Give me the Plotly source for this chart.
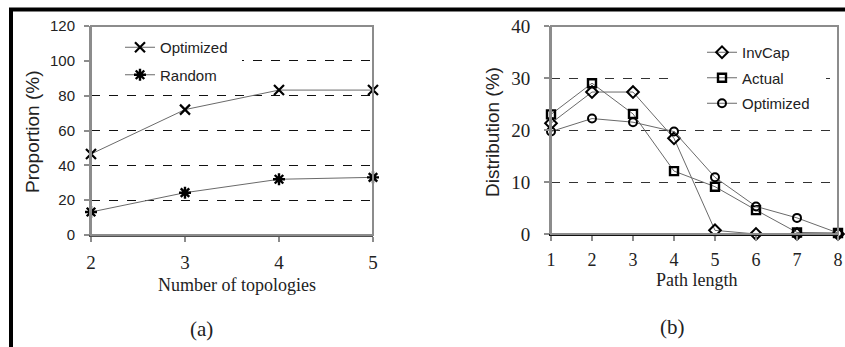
import plotly.graph_objects as go

W, H = 845, 347

# ---- data: panel (a)
topologies = [2, 3, 4, 5]
prop_optimized = [46.5, 72, 83.2, 83.2]
prop_random = [13.2, 24.3, 32, 33.1]
prop_ticks = [0, 20, 40, 60, 80, 100, 120]

# ---- data: panel (b)
path_length = [1, 2, 3, 4, 5, 6, 7, 8]
dist_invcap = [21.3, 27.3, 27.3, 18.4, 0.7, 0, 0, 0]
dist_actual = [23.0, 29.0, 23.1, 12.1, 9.1, 4.6, 0.3, 0.2]
dist_optimized = [19.7, 22.2, 21.5, 19.7, 10.9, 5.3, 3.1, 0.2]
dist_ticks = [0, 10, 20, 30, 40]

SANS = "Liberation Sans, Arial, sans-serif"
SERIF = "Liberation Serif, Times New Roman, serif"
LINE = "#6a6a6a"
FRAME = "#8c8c8c"


def px_x(p):
    return p / W


def px_y(p):
    return (H - p) / H


fig = go.Figure()

# panel (a) traces
fig.add_trace(go.Scatter(
    x=topologies, y=prop_optimized, name="Optimized", mode="lines+markers",
    line=dict(color=LINE, width=1),
    marker=dict(symbol="x-thin-open", size=10, color="black", line=dict(color="black", width=2.2)),
    xaxis="x", yaxis="y", legend="legend", legendgroup="a1", cliponaxis=False))
fig.add_trace(go.Scatter(
    x=topologies, y=prop_random, name="Random", mode="lines+markers",
    line=dict(color=LINE, width=1),
    marker=dict(symbol="asterisk-open", size=10, color="black", line=dict(color="black", width=2.4)),
    xaxis="x", yaxis="y", legend="legend", legendgroup="a2", cliponaxis=False))

# panel (b) traces
fig.add_trace(go.Scatter(
    x=path_length, y=dist_invcap, name="InvCap", mode="lines+markers",
    line=dict(color=LINE, width=1),
    marker=dict(symbol="diamond-open", size=9, color="black", line=dict(color="black", width=2)),
    xaxis="x2", yaxis="y2", legend="legend2", legendgroup="b1", cliponaxis=False))
fig.add_trace(go.Scatter(
    x=path_length, y=dist_actual, name="Actual", mode="lines+markers",
    line=dict(color=LINE, width=1),
    marker=dict(symbol="square-open", size=8, color="black", line=dict(color="black", width=2.4)),
    xaxis="x2", yaxis="y2", legend="legend2", legendgroup="b2", cliponaxis=False))
fig.add_trace(go.Scatter(
    x=path_length, y=dist_optimized, name="Optimized", mode="lines+markers",
    line=dict(color=LINE, width=1),
    marker=dict(symbol="circle-open", size=8, color="black", line=dict(color="black", width=2)),
    xaxis="x2", yaxis="y2", legend="legend2", legendgroup="b3", cliponaxis=False))

axis_common = dict(showline=True, ticks="outside", ticklen=5, tickcolor=FRAME, tickwidth=1.5,
                   zeroline=False, fixedrange=True, automargin=False)

fig.update_layout(
    width=W, height=H, margin=dict(l=0, r=0, t=0, b=0, autoexpand=False),
    paper_bgcolor="white", plot_bgcolor="white",
    xaxis=dict(domain=[px_x(91), px_x(373)], range=[2, 5], tickvals=topologies,
               showgrid=False, linecolor="#505050", linewidth=2,
               tickfont=dict(family=SERIF, size=19, color="#222"), ticklabelstandoff=4,
               anchor="y", **axis_common),
    yaxis=dict(domain=[px_y(235), px_y(26)], range=[0, 120], tickvals=prop_ticks,
               showgrid=True, gridcolor="#111", griddash="dash", gridwidth=1,
               linecolor=FRAME, linewidth=2,
               tickfont=dict(family=SANS, size=15, color="#222"), ticklabelstandoff=6,
               anchor="x", **axis_common),
    xaxis2=dict(domain=[px_x(551), px_x(838)], range=[1, 8], tickvals=path_length,
                showgrid=False, linecolor="#111", linewidth=2,
                tickfont=dict(family=SERIF, size=18, color="#222"), ticklabelstandoff=3,
                anchor="y2", **axis_common),
    yaxis2=dict(domain=[px_y(234), px_y(26)], range=[0, 40], tickvals=dist_ticks,
                showgrid=True, gridcolor="#333", griddash="dash", gridwidth=1,
                linecolor=FRAME, linewidth=2,
                tickfont=dict(family=SERIF, size=19, color="#222"), ticklabelstandoff=10,
                anchor="x2", **axis_common),
    legend=dict(x=px_x(120), y=px_y(31), xanchor="left", yanchor="top",
                bgcolor="rgba(0,0,0,0)", font=dict(family=SANS, size=15, color="#222"),
                traceorder="grouped", tracegroupgap=5, itemsizing="trace"),
    legend2=dict(x=px_x(702), y=px_y(36), xanchor="left", yanchor="top",
                 bgcolor="rgba(0,0,0,0)", font=dict(family=SANS, size=15, color="#222"),
                 traceorder="grouped", tracegroupgap=3, itemsizing="trace"),
    showlegend=True,
)

shapes = [
    # white patches behind legends (hide gridlines)
    dict(type="rect", xref="paper", yref="paper", x0=px_x(92), x1=px_x(242), y0=px_y(90), y1=px_y(30),
         fillcolor="white", line=dict(width=0), layer="above"),
    dict(type="rect", xref="paper", yref="paper", x0=px_x(673), x1=px_x(826), y0=px_y(118), y1=px_y(40),
         fillcolor="white", line=dict(width=0), layer="above"),
    # plot frames
    dict(type="rect", xref="x domain", yref="y domain", x0=0, x1=1, y0=0, y1=1,
         line=dict(color=FRAME, width=2), layer="above"),
    dict(type="rect", xref="x2 domain", yref="y2 domain", x0=0, x1=1, y0=0, y1=1,
         line=dict(color=FRAME, width=2), layer="above"),
    # outer black border
    dict(type="line", xref="paper", yref="paper", x0=px_x(9), x1=1, y0=px_y(9.5), y1=px_y(9.5),
         line=dict(color="black", width=4)),
    dict(type="line", xref="paper", yref="paper", x0=px_x(11), x1=px_x(11), y0=0, y1=px_y(8),
         line=dict(color="black", width=4)),
]
fig.update_layout(shapes=shapes)

annotations = [
    dict(text="Proportion (%)", x=px_x(32), y=px_y(132), textangle=-90,
         font=dict(family=SANS, size=19, color="#222")),
    dict(text="Number of topologies", x=px_x(237), y=px_y(285),
         font=dict(family=SERIF, size=18, color="#222")),
    dict(text="(a)", x=px_x(201), y=px_y(329), font=dict(family=SERIF, size=21, color="#222")),
    dict(text="Distribution (%)", x=px_x(492), y=px_y(132), textangle=-90,
         font=dict(family=SANS, size=19, color="#222")),
    dict(text="Path length", x=px_x(697), y=px_y(280),
         font=dict(family=SERIF, size=18, color="#222")),
    dict(text="(b)", x=px_x(672), y=px_y(327), font=dict(family=SERIF, size=21, color="#222")),
]
for a in annotations:
    a.update(xref="paper", yref="paper", showarrow=False, xanchor="center", yanchor="middle")
fig.update_layout(annotations=annotations)

fig.write_html("out.html", config={"displayModeBar": False},
               post_script="document.body.style.margin='0';document.body.style.overflow='hidden';")
